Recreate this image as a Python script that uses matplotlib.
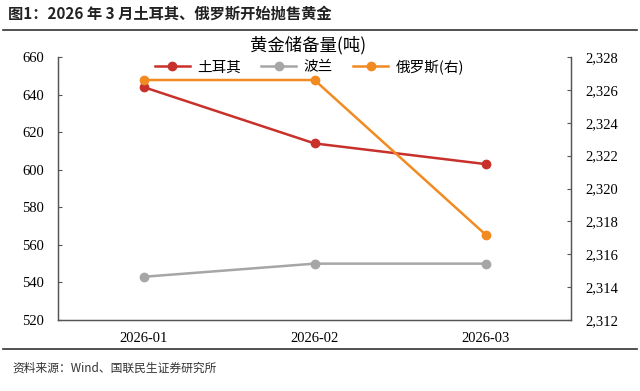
import matplotlib
matplotlib.use("Agg")
import matplotlib.pyplot as plt
from matplotlib.ticker import FuncFormatter, MultipleLocator

plt.rcParams['font.family'] = ['Noto Sans CJK SC', 'DejaVu Sans']

months = ["2026-01", "2026-02", "2026-03"]
turkey = [644.0, 614.0, 603.0]
poland = [543.0, 550.0, 550.0]
russia = [2326.6, 2326.6, 2317.2]

c_red = "#C8312B"
c_gray = "#A6A6A6"
c_orange = "#F28A22"
serif = "Liberation Serif"

fig = plt.figure(figsize=(6.4, 3.91), dpi=100)
ax = fig.add_axes([58 / 640, 1 - 320 / 391, (571 - 58) / 640, (320 - 57) / 391])
ax2 = ax.twinx()

x = list(range(len(months)))
l1, = ax.plot(x, turkey, color=c_red, lw=1.8, marker="o", ms=6, label="土耳其")
l2, = ax.plot(x, poland, color=c_gray, lw=1.8, marker="o", ms=6, label="波兰")
l3, = ax2.plot(x, russia, color=c_orange, lw=1.8, marker="o", ms=6, label="俄罗斯(右)")

ax.set_xlim(-0.5, 2.5)
ax.set_ylim(520, 660)
ax.yaxis.set_major_locator(MultipleLocator(20))
ax2.set_ylim(2312, 2328)
ax2.yaxis.set_major_locator(MultipleLocator(2))
ax2.yaxis.set_major_formatter(FuncFormatter(lambda v, p: f"{v:,.0f}"))

ax.set_xticks(x)
ax.set_xticklabels(months)
for a in (ax, ax2):
    a.spines["top"].set_visible(False)
    for s in a.spines.values():
        s.set_color("#555555")
        s.set_linewidth(0.9)
    a.tick_params(axis="y", direction="in", length=3, color="#555555",
                  labelsize=10.5, pad=10)
    for t in a.get_yticklabels():
        t.set_family(serif)
ax.tick_params(axis="x", length=0, labelsize=10.5, pad=9)
for t in ax.get_xticklabels():
    t.set_family(serif)

ax.legend(handles=[l1, l2, l3], loc="upper center", bbox_to_anchor=(0.49, 1.04),
          ncol=3, frameon=False, fontsize=10.5, handlelength=2.4,
          columnspacing=1.4, handletextpad=0.5)

fig.text(308 / 640, 1 - 45 / 391, "黄金储备量(吨)", ha="center", va="center", fontsize=12.5)
fig.text(8 / 640, 1 - 14 / 391, "图1：2026 年 3 月土耳其、俄罗斯开始抛售黄金",
         ha="left", va="center", fontsize=11, fontweight="bold", color="#222222")
fig.add_artist(plt.Line2D([3 / 640, 637 / 640], [1 - 30 / 391] * 2, color="#333333", lw=1.2))
fig.add_artist(plt.Line2D([3 / 640, 637 / 640], [1 - 349 / 391] * 2, color="#333333", lw=1.2))
fig.text(12 / 640, 1 - 368 / 391, "资料来源：Wind、国联民生证券研究所",
         ha="left", va="center", fontsize=8.5, color="#333333")

fig.savefig("out.png", dpi=100)
